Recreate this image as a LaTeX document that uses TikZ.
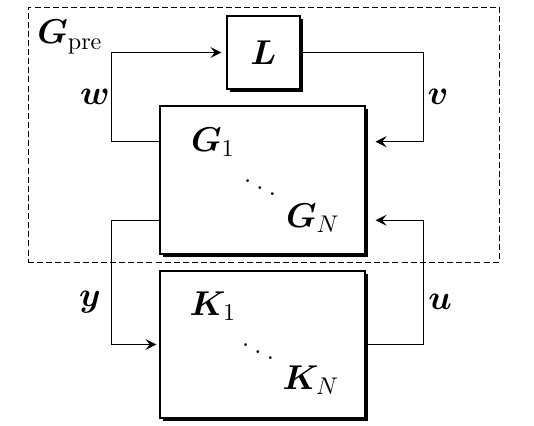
\RequirePackage{fix-cm}
\documentclass[tikz,border=0pt]{standalone}
\usepackage{amsmath,bm}
\usetikzlibrary{calc,shadows,arrows.meta}
\begin{document}
\begin{tikzpicture}[x=0.45pt,y=-0.45pt,
  font=\fontsize{15.5}{18}\selectfont,
  blk/.style={draw, fill=white, line width=0.5pt, inner sep=0pt,
    drop shadow={shadow xshift=1.35pt, shadow yshift=-1.35pt, opacity=1, fill=black}},
  conn/.style={-{Stealth[length=5pt,width=5pt,inset=2pt]}, line width=0.5pt},
  lbl/.style={inner sep=0pt},
  framebox/.style={draw, dash pattern=on 2.7pt off 1.4pt, line width=0.4pt, inner sep=0pt}]
\useasboundingbox (0,0) rectangle (534,426);
% dashed frame
\node[framebox, minimum width=211.95pt, minimum height=114.75pt] (pre) at (263.5,134.5) {};
% blocks
\node[blk, minimum width=32.85pt, minimum height=32.85pt] (L) at (263.5,52.5) {};
\node[blk, minimum width=92.25pt, minimum height=66.6pt] (G) at (262.5,180) {};
\node[blk, minimum width=92.25pt, minimum height=66.15pt] (K) at (262.5,344.5) {};
\node[lbl] (Lt) at (L.center) {$\bm{L}$};
% coordinates on block borders
\coordinate (gw1) at ($(G.north west)!0.243!(G.south west)$);
\coordinate (gw2) at ($(G.north west)!0.77!(G.south west)$);
\coordinate (ge1) at ($(G.north east)!0.243!(G.south east)$);
\coordinate (ge2) at ($(G.north east)!0.77!(G.south east)$);
% connectors
\draw[conn] (gw1) -- ++(-48,0) |- ($(L.west)+(-5,0)$);
\draw[conn] (L.east) -- ++(123,0) |- ($(ge1)+(10,0)$);
\draw[conn] (gw2) -- ++(-48,0) |- ($(K.west)+(-3,0)$);
\draw[conn] (K.east) -- ++(58,0) |- ($(ge2)+(10,0)$);
% labels
\node[lbl] (gpre) at (70,37) {$\bm{G}_{\mathrm{pre}}$};
\node[lbl] (w) at (95,97) {$\bm{w}$};
\node[lbl] (v) at (438,97) {$\bm{v}$};
\node[lbl] (y) at (90,302) {$\bm{y}$};
\node[lbl] (u) at (440,302) {$\bm{u}$};
% inner texts
\node[lbl] (g1) at (213,142) {$\bm{G}_1$};
\node[lbl] (gd) at (260,181) {$\ddots$};
\node[lbl] (gn) at (313,218) {$\bm{G}_N$};
\node[lbl] (k1) at (213,306) {$\bm{K}_1$};
\node[lbl] (kd) at (258,345) {$\ddots$};
\node[lbl] (kn) at (311,380) {$\bm{K}_N$};
\end{tikzpicture}
\end{document}
